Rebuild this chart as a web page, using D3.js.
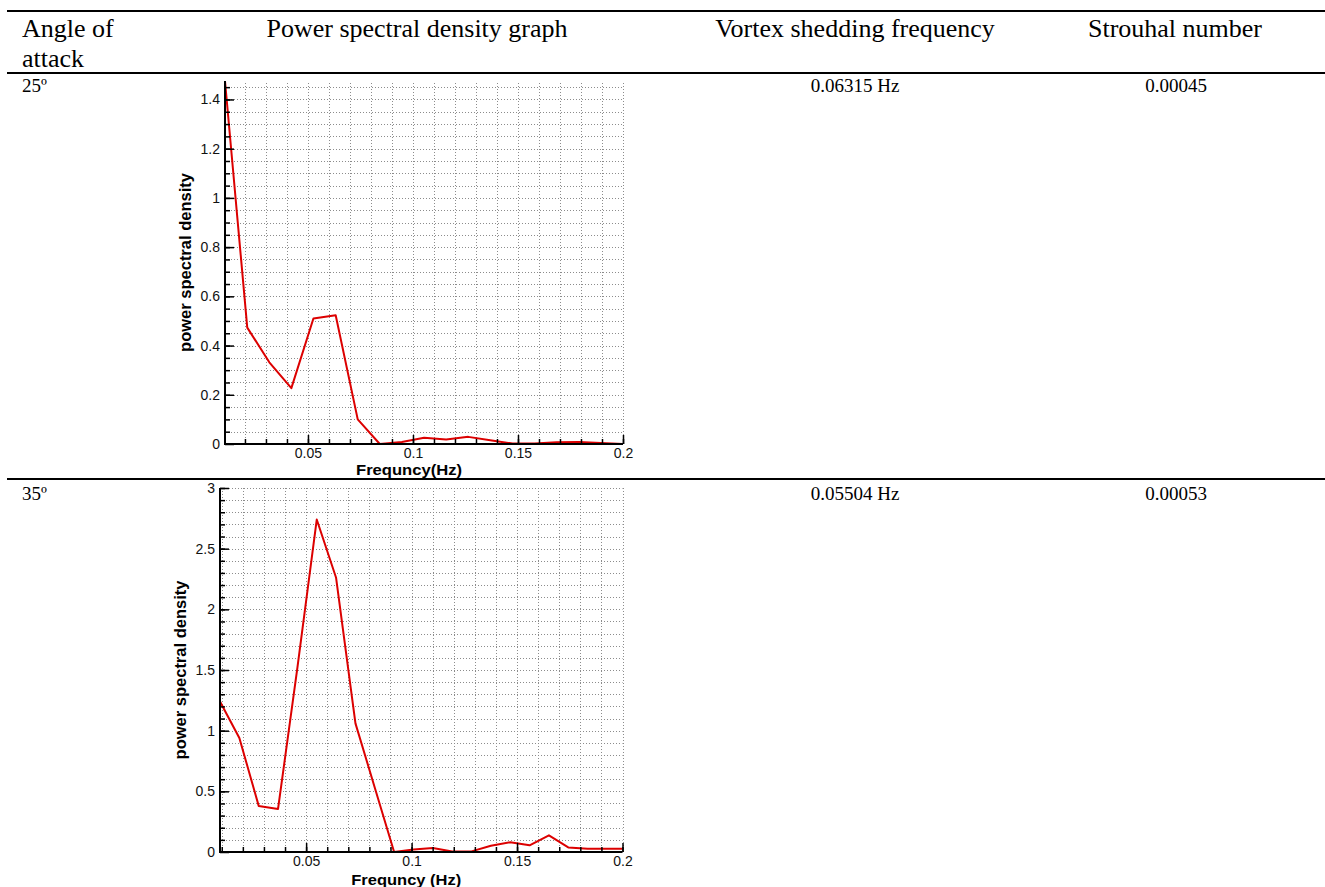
<!DOCTYPE html>
<html><head><meta charset="utf-8">
<script src="https://cdn.jsdelivr.net/npm/d3@7"></script>
<style>body{margin:0;background:#fff} svg{display:block}</style>
</head><body>
<svg id="c" width="1325" height="887"></svg>
<script>
// ---------- data ----------
const headerCols = ["Angle of|attack", "Power spectral density graph", "Vortex shedding frequency", "Strouhal number"];
const angles = ["25º", "35º"];
const sheddingFreq = ["0.06315 Hz", "0.05504 Hz"];
const strouhal = ["0.00045", "0.00053"];

const freq25 = [0.0105, 0.0211, 0.0316, 0.0421, 0.0526, 0.0632, 0.0737, 0.0842, 0.0947, 0.1053,
                0.1158, 0.1263, 0.1368, 0.1474, 0.1579, 0.1684, 0.1789, 0.1895, 0.2000];
const psd25  = [1.475, 0.473, 0.332, 0.227, 0.510, 0.523, 0.100, 0.000, 0.008, 0.025,
                0.018, 0.029, 0.015, 0.002, 0.002, 0.007, 0.008, 0.004, 0.000];

const freq35 = [0.00917, 0.01835, 0.02752, 0.03669, 0.04587, 0.05504, 0.06421, 0.07339, 0.08256, 0.09173,
                0.10090, 0.11008, 0.11925, 0.12843, 0.13760, 0.14677, 0.15595, 0.16512, 0.17429, 0.18347,
                0.19264, 0.20181];
const psd35  = [1.24, 0.94, 0.38, 0.355, 1.52, 2.74, 2.26, 1.06, 0.53, 0.0,
                0.02, 0.033, 0.005, 0.005, 0.052, 0.08, 0.055, 0.137, 0.038, 0.027,
                0.027, 0.027];

const xTickLabels = ["0.05", "0.1", "0.15", "0.2"];
const yTickLabels25 = ["0", "0.2", "0.4", "0.6", "0.8", "1", "1.2", "1.4"];
const yTickLabels35 = ["0", "0.5", "1", "1.5", "2", "2.5", "3"];

const xTitle = ["Frequncy(Hz)", "Frequncy (Hz)"];
const yTitle = "power spectral density";

// ---------- drawing ----------
const svg = d3.select("#c");
svg.append("rect").attr("width", 1325).attr("height", 887).attr("fill", "#fff");

const serif = "'Liberation Serif','Times New Roman',serif";
const sans = "'Liberation Sans',Arial,Helvetica,sans-serif";

// table rules
[11, 73, 479].forEach(y => {
  svg.append("rect").attr("x", 7).attr("y", y - 1).attr("width", 1318).attr("height", 2).attr("fill", "#000");
});

// header
const colCenters = [null, 417, 855, 1175];
headerCols.forEach((h, i) => {
  const lines = h.split("|");
  lines.forEach((ln, j) => {
    svg.append("text")
      .attr("x", i === 0 ? 22 : colCenters[i])
      .attr("y", 37 + j * 30)
      .attr("text-anchor", i === 0 ? "start" : "middle")
      .attr("font-family", serif).attr("font-size", 26).attr("fill", "#000")
      .text(ln);
  });
});

// row texts
const rowBase = [92, 500];
angles.forEach((a, r) => {
  svg.append("text").attr("x", 22).attr("y", rowBase[r])
    .attr("font-family", serif).attr("font-size", 19).text(a);
  svg.append("text").attr("x", 855).attr("y", rowBase[r]).attr("text-anchor", "middle")
    .attr("font-family", serif).attr("font-size", 19).text(sheddingFreq[r]);
  svg.append("text").attr("x", 1176).attr("y", rowBase[r]).attr("text-anchor", "middle")
    .attr("font-family", serif).attr("font-size", 19).text(strouhal[r]);
});

function panel(opt) {
  const {freq, psd, xr, yr, yMax, yLabels, yMinor, xTitleText, xTitleY, xTitleLen, yTitleX, id} = opt;
  const x = d3.scaleLinear().domain([freq[0], 0.2]).range(xr);
  const y = d3.scaleLinear().domain([0, yMax]).range(yr);
  const g = svg.append("g");

  // grid
  const xGridVals = d3.range(1, 21).map(k => k / 100).filter(v => v > freq[0] + 1e-4 && v <= 0.2 + 1e-9);
  const yGridVals = d3.range(1, Math.floor(yMax / yMinor + 1e-6) + 1).map(k => k * yMinor);
  g.append("g").selectAll("line").data(xGridVals).join("line")
    .attr("x1", d => Math.round(x(d)) + 0.5).attr("x2", d => Math.round(x(d)) + 0.5)
    .attr("y1", yr[0]).attr("y2", yr[1])
    .attr("stroke", "#8c8c8c").attr("stroke-width", 1).attr("stroke-dasharray", "1,2");
  g.append("g").selectAll("line").data(yGridVals).join("line")
    .attr("y1", d => Math.round(y(d)) + 0.5).attr("y2", d => Math.round(y(d)) + 0.5)
    .attr("x1", xr[0]).attr("x2", xr[1])
    .attr("stroke", "#8c8c8c").attr("stroke-width", 1).attr("stroke-dasharray", "1,2");

  // data line
  g.append("clipPath").attr("id", id).append("rect")
    .attr("x", xr[0]).attr("y", yr[1] - 2).attr("width", xr[1] - xr[0]).attr("height", yr[0] - yr[1] + 4);
  g.append("path").datum(freq.map((f, i) => [f, psd[i]]))
    .attr("clip-path", `url(#${id})`)
    .attr("d", d3.line().x(d => x(d[0])).y(d => y(d[1])))
    .attr("fill", "none").attr("stroke", "#dc0000").attr("stroke-width", 2).attr("stroke-linejoin", "round");

  // minor ticks
  g.append("g").attr("transform", `translate(0,${yr[0]})`)
    .call(d3.axisBottom(x).tickValues(xGridVals).tickSize(-5).tickSizeOuter(0).tickFormat(""))
    .call(a => a.select(".domain").remove())
    .selectAll("line").attr("stroke", "#000").attr("stroke-width", 1.5);
  g.append("g").attr("transform", `translate(${xr[0]},0)`)
    .call(d3.axisLeft(y).tickValues(yGridVals).tickSize(-5).tickSizeOuter(0).tickFormat(""))
    .call(a => a.select(".domain").remove())
    .selectAll("line").attr("stroke", "#000").attr("stroke-width", 1.5);

  // major axes
  const xa = g.append("g").attr("transform", `translate(0,${yr[0]})`)
    .call(d3.axisBottom(x).tickValues(xTickLabels.map(Number)).tickSize(-9).tickSizeOuter(0).tickPadding(4)
      .tickFormat((d, i) => xTickLabels[i]));
  const ya = g.append("g").attr("transform", `translate(${xr[0]},0)`)
    .call(d3.axisLeft(y).tickValues(yLabels.map(Number)).tickSize(-9).tickSizeOuter(0).tickPadding(5)
      .tickFormat((d, i) => yLabels[i]));
  [xa, ya].forEach(a => {
    a.select(".domain").attr("stroke", "#000").attr("stroke-width", 2);
    a.selectAll(".tick line").attr("stroke", "#000").attr("stroke-width", 1.5);
    a.selectAll("text").attr("font-family", sans).attr("font-size", 14).attr("fill", "#111");
  });
  xa.select(".domain").attr("d", `M${xr[0] - 1},0H${xr[1]}`);
  ya.select(".domain").attr("d", `M0,${yr[0] + 1}V${yr[1]}`);

  // titles
  g.append("text").attr("x", (xr[0] + xr[1]) / 2 - 15).attr("y", xTitleY).attr("text-anchor", "middle")
    .attr("font-family", sans).attr("font-weight", "bold").attr("font-size", 15)
    .attr("textLength", xTitleLen).attr("lengthAdjust", "spacingAndGlyphs")
    .text(xTitleText);
  g.append("text").attr("transform", `translate(${yTitleX},${(yr[0] + yr[1]) / 2})rotate(-90)`)
    .attr("text-anchor", "middle")
    .attr("font-family", sans).attr("font-weight", "bold").attr("font-size", 16.5).text(yTitle);
}

panel({freq: freq25, psd: psd25, xr: [225, 623], yr: [444, 81], yMax: 1.475,
  yLabels: yTickLabels25, yMinor: 0.05, xTitleText: xTitle[0], xTitleY: 475, xTitleLen: 106, yTitleX: 191, id: "clip25"});
panel({freq: freq35, psd: psd35, xr: [220, 622.5], yr: [852, 488], yMax: 3,
  yLabels: yTickLabels35, yMinor: 0.1, xTitleText: xTitle[1], xTitleY: 885, xTitleLen: 110, yTitleX: 186, id: "clip35"});
</script>
</body></html>
